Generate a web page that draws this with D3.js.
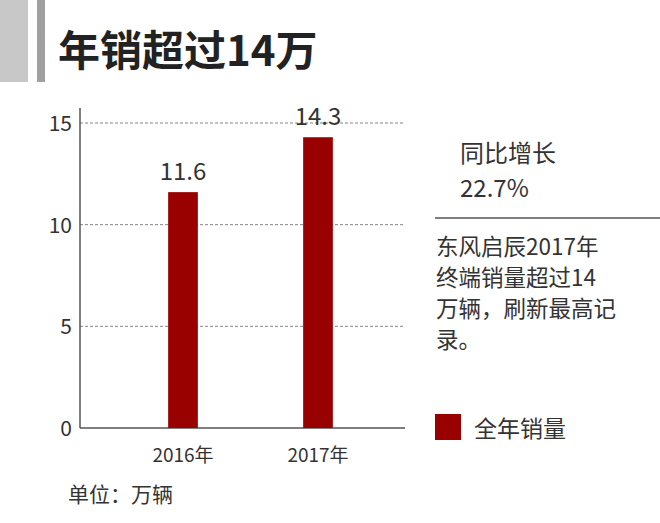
<!DOCTYPE html>
<html><head><meta charset="utf-8">
<script src="https://cdn.jsdelivr.net/npm/d3@7"></script>
<style>body{margin:0;background:#fff}text{font-family:"Noto Sans CJK SC","Noto Sans",sans-serif}</style>
</head><body>
<svg id="c" width="660" height="523"></svg>
<script>
const categories=["2016年","2017年"];
const values=[11.6,14.3];
const yTicks=[0,5,10,15];
const svg=d3.select("#c");
const color="#990000";
svg.append("rect").attr("x",0).attr("y",0).attr("width",28).attr("height",82).attr("fill","#c8c8c8");
svg.append("rect").attr("x",37).attr("y",0).attr("width",8).attr("height",82).attr("fill","#a0a0a0");
svg.append("text").attr("x",58).attr("y",66).attr("font-size",42).attr("font-weight","bold").attr("fill","#222").text("年销超过14万");
const y=d3.scaleLinear().domain([0,15]).range([428,123]);
const x=d3.scaleBand().domain(categories).range([115.5,385.5]).paddingInner(0.78).paddingOuter(0.39);
yTicks.forEach(t=>{
  svg.append("line").attr("x1",80).attr("x2",405).attr("y1",y(t)).attr("y2",y(t))
   .attr("stroke",t===0?"#555":"#666").attr("stroke-dasharray",t===0?null:"3,2").attr("stroke-width",t===0?1.5:0.8);
  svg.append("text").attr("x",72).attr("y",y(t)+8).attr("text-anchor","end").attr("font-size",21).attr("fill","#333").text(t);
});
svg.append("line").attr("x1",80).attr("x2",80).attr("y1",108).attr("y2",428).attr("stroke","#555").attr("stroke-width",1.5);
categories.forEach((c,i)=>{
  svg.append("rect").attr("x",x(c)).attr("y",y(values[i])).attr("width",x.bandwidth()).attr("height",y(0)-y(values[i])).attr("fill",color);
  svg.append("text").attr("x",x(c)+x.bandwidth()/2).attr("y",y(values[i])-12).attr("text-anchor","middle").attr("font-size",24).attr("fill","#333").text(values[i]);
  svg.append("text").attr("x",x(c)+x.bandwidth()/2).attr("y",462).attr("text-anchor","middle").attr("font-size",19).attr("fill","#333").text(c);
});
svg.append("text").attr("x",460).attr("y",162).attr("font-size",24).attr("fill","#333").text("同比增长");
svg.append("text").attr("x",460).attr("y",197).attr("font-size",24).attr("fill","#333").text("22.7%");
svg.append("line").attr("x1",435).attr("x2",660).attr("y1",218).attr("y2",218).attr("stroke","#555").attr("stroke-width",1.5);
["东风启辰2017年","终端销量超过14","万辆，刷新最高记","录。"].forEach((t,i)=>
  svg.append("text").attr("x",436).attr("y",255+i*31).attr("font-size",22.5).attr("fill","#333").text(t));
svg.append("rect").attr("x",435).attr("y",414).attr("width",26).attr("height",26).attr("fill",color);
svg.append("text").attr("x",474).attr("y",437).attr("font-size",23).attr("fill","#333").text("全年销量");
svg.append("text").attr("x",68).attr("y",502).attr("font-size",21).attr("fill","#333").text("单位：万辆");
</script></body></html>
